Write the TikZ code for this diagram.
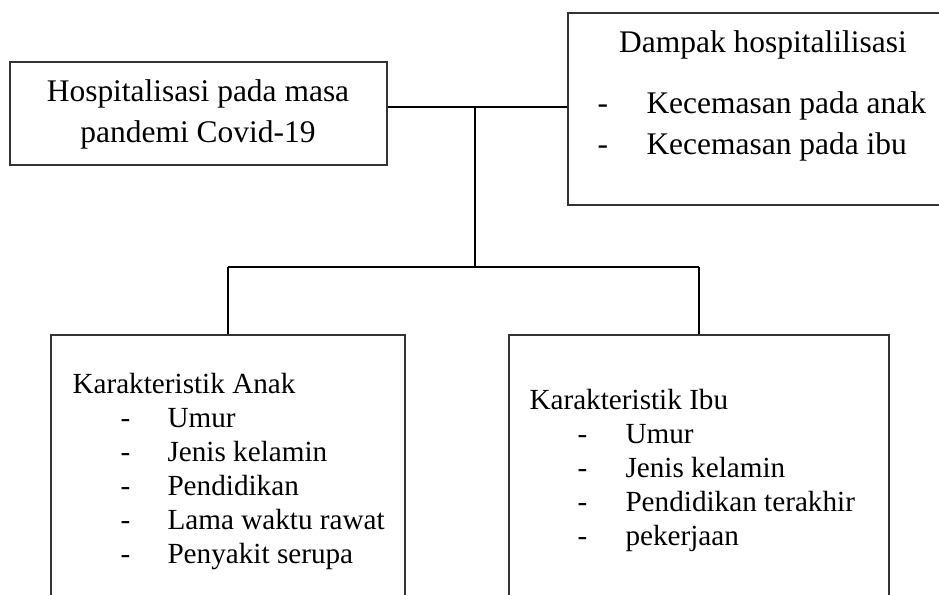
\documentclass[tikz,border=0pt]{standalone}
\usepackage{fontspec}
\setmainfont{Liberation Serif}

\tikzset{every picture/.style={line width=0.75pt}}
\tikzset{
  framebox/.style={draw=black!80, line width=1.1pt, rectangle, inner sep=0pt},
  linkline/.style={draw=black, line width=1.5pt},
  bigtext/.style={inner sep=0pt, font=\fontsize{23.6}{28}\selectfont},
  listtext/.style={anchor=base west, inner sep=0pt, font=\fontsize{21.9}{26}\selectfont},
}

\begin{document}
\begin{tikzpicture}[x=0.75pt,y=0.75pt,yscale=-1,xscale=1]
\useasboundingbox (0,0) rectangle (939,594);
\clip (0,0) rectangle (939,594);

%Boxes
\node[framebox, minimum width=282.75pt, minimum height=77.25pt] (hosp) at (198.5,113.5) {};
\node[framebox, minimum width=283.5pt, minimum height=144pt] (dampak) at (757,109) {};
\node[framebox, minimum width=265.5pt, minimum height=213.75pt] (anak) at (228,477.5) {};
\node[framebox, minimum width=285pt, minimum height=213.75pt] (ibu) at (699,477.5) {};

%Connectors
\coordinate (hub) at (475,107);
\coordinate (split) at (475,267);
\draw[linkline] (hub -| hosp.east) -- (hub -| dampak.west);
\draw[linkline] (hub) -- (split);
\draw[linkline] (anak.north |- split) -- (ibu.north |- split);
\draw[linkline] (anak.north |- split) -- (anak.north);
\draw[linkline] (ibu.north |- split) -- (ibu.north);

% Text Node
\node[bigtext, anchor=base] (hosptxta) at (198,101) {Hospitalisasi pada masa};
\node[bigtext, anchor=base] (hosptxtb) at (198,142) {pandemi Covid-19};
% Text Node
\node[bigtext, anchor=base] (dampaktxt) at (763,52) {Dampak hospitalilisasi};
\node[bigtext, anchor=base west] (dampakdasha) at (597,113) {-};
\node[bigtext, anchor=base west] (dampakitema) at (646,113) {Kecemasan pada anak};
\node[bigtext, anchor=base west] (dampakdashb) at (597,154) {-};
\node[bigtext, anchor=base west] (dampakitemb) at (646,154) {Kecemasan pada ibu};
% Text Node
\node[listtext] (anaktxt) at (72,393) {Karakteristik Anak};
\foreach \txt [count=\i] in {Umur, Jenis kelamin, Pendidikan, Lama waktu rawat, Penyakit serupa}{
  \node[listtext] (anakdash\i) at (120,393+34*\i) {-};
  \node[listtext] (anakitem\i) at (167,393+34*\i) {\txt};
}
% Text Node
\node[listtext] (ibutxt) at (529,409) {Karakteristik Ibu};
\foreach \txt [count=\i] in {Umur, Jenis kelamin, Pendidikan terakhir, pekerjaan}{
  \node[listtext] (ibudash\i) at (577,409+34*\i) {-};
  \node[listtext] (ibuitem\i) at (625,409+34*\i) {\txt};
}

\end{tikzpicture}
\end{document}
